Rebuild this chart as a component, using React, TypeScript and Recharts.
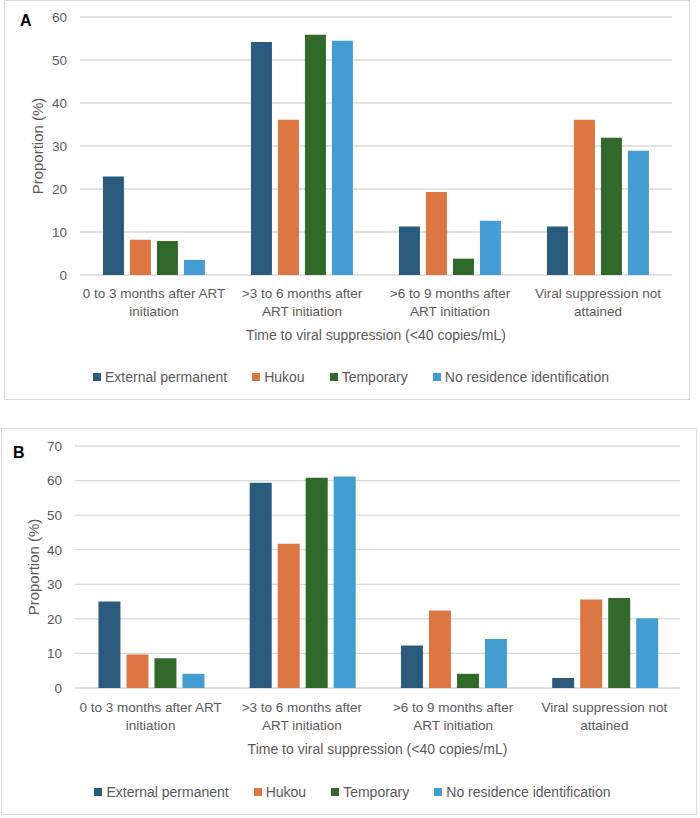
import { BarChart, Bar, XAxis, YAxis, CartesianGrid, Legend } from "recharts";

const FONT = '"Liberation Sans", Arial, sans-serif';
const TEXT = "#595959";
const GRID = "#d9d9d9";

const categories = [
  "0 to 3 months after ART initiation",
  ">3 to 6 months after ART initiation",
  ">6 to 9 months after ART initiation",
  "Viral suppression not attained",
];
const tickLines = [
  ["0 to 3 months after ART", "initiation"],
  [">3 to 6 months after", "ART initiation"],
  [">6 to 9 months after", "ART initiation"],
  ["Viral suppression not", "attained"],
];
const seriesNames = ["External permanent", "Hukou", "Temporary", "No residence identification"];
const seriesKeys = ["external", "hukou", "temporary", "noResidence"];
const colors = ["#2a5b7d", "#dc7642", "#31692b", "#449dd2"];

// Panel A
const externalA = [22.9, 54.2, 11.3, 11.3];
const hukouA = [8.2, 36.1, 19.3, 36.1];
const temporaryA = [7.9, 55.9, 3.8, 31.9];
const noResidenceA = [3.5, 54.5, 12.6, 28.9];
const yTicksA = [0, 10, 20, 30, 40, 50, 60];

// Panel B
const externalB = [25.0, 59.4, 12.3, 2.9];
const hukouB = [9.7, 41.7, 22.4, 25.6];
const temporaryB = [8.6, 60.8, 4.1, 26.0];
const noResidenceB = [4.1, 61.2, 14.2, 20.2];
const yTicksB = [0, 10, 20, 30, 40, 50, 60, 70];

const xTitle = "Time to viral suppression (<40 copies/mL)";
const yTitle = "Proportion (%)";

const buildRows = (ext: number[], huk: number[], tmp: number[], nores: number[]) =>
  categories.map((name, i) => ({
    name,
    external: ext[i],
    hukou: huk[i],
    temporary: tmp[i],
    noResidence: nores[i],
  }));

const dataA = buildRows(externalA, hukouA, temporaryA, noResidenceA);
const dataB = buildRows(externalB, hukouB, temporaryB, noResidenceB);

function CategoryTick(props: any) {
  const { x, y, payload, firstDy } = props;
  const lines = tickLines[categories.indexOf(payload.value)] || [payload.value];
  return (
    <text x={x} y={y} textAnchor="middle" fill={TEXT} fontSize={13.5} fontFamily={FONT}>
      {lines.map((l, i) => (
        <tspan key={i} x={x} dy={i === 0 ? firstDy : 18}>
          {l}
        </tspan>
      ))}
    </text>
  );
}

const renderLegend = () => (
  <div
    style={{
      display: "flex",
      justifyContent: "center",
      gap: 25,
      fontSize: 14,
      lineHeight: "20px",
      height: 20,
      color: TEXT,
      fontFamily: FONT,
    }}
  >
    {seriesNames.map((n, i) => (
      <span key={n} style={{ display: "flex", alignItems: "center" }}>
        <span style={{ width: 8, height: 8, background: colors[i], marginRight: 4 }} />
        {n}
      </span>
    ))}
  </div>
);

interface PanelProps {
  letter: string;
  data: any[];
  left: number;
  top: number;
  width: number;
  height: number;
  margin: { top: number; right: number; bottom: number; left: number };
  yTicks: number[];
  xAxisHeight: number;
  tickDy: number;
  titleOffset: number;
  yLabelInset: number;
  letterPos: { left: number; top: number };
}

function Panel(p: PanelProps) {
  return (
    <div
      style={{
        position: "absolute",
        left: p.left,
        top: p.top,
        width: p.width,
        height: p.height,
        boxShadow: `inset 0 0 0 1px ${GRID}`,
      }}
    >
      <div
        style={{
          position: "absolute",
          left: p.letterPos.left,
          top: p.letterPos.top,
          fontFamily: FONT,
          fontWeight: "bold",
          fontSize: 16,
          color: "#000",
          lineHeight: "16px",
        }}
      >
        {p.letter}
      </div>
      <BarChart
        width={p.width}
        height={p.height}
        data={p.data}
        margin={p.margin}
        barCategoryGap="15.5%"
        barGap={6}
      >
        <CartesianGrid vertical={false} stroke={GRID} strokeWidth={1.3} />
        <XAxis
          dataKey="name"
          axisLine={false}
          tickLine={false}
          tickSize={0}
          tickMargin={0}
          height={p.xAxisHeight}
          interval={0}
          tick={<CategoryTick firstDy={p.tickDy} />}
          label={{
            value: xTitle,
            position: "insideBottom",
            offset: p.titleOffset,
            fill: TEXT,
            fontSize: 14,
            fontFamily: FONT,
          }}
        />
        <YAxis
          width={50}
          domain={[0, p.yTicks[p.yTicks.length - 1]]}
          ticks={p.yTicks}
          axisLine={false}
          tickLine={false}
          tickSize={0}
          tickMargin={13}
          tick={{ fill: TEXT, fontSize: 13.5, fontFamily: FONT }}
          label={({ viewBox }: any) => {
            const cx = viewBox.x + viewBox.width - p.yLabelInset;
            const cy = viewBox.y + viewBox.height / 2;
            return (
              <text
                x={cx}
                y={cy}
                transform={`rotate(-90, ${cx}, ${cy})`}
                textAnchor="middle"
                dominantBaseline="central"
                fill={TEXT}
                fontSize={15}
                fontFamily={FONT}
              >
                {yTitle}
              </text>
            );
          }}
        />
        <Legend verticalAlign="bottom" content={renderLegend} />
        {seriesKeys.map((k, i) => (
          <Bar key={k} dataKey={k} name={seriesNames[i]} fill={colors[i]} isAnimationActive={false} />
        ))}
      </BarChart>
    </div>
  );
}

export default function App() {
  return (
    <div style={{ position: "absolute", left: 0, top: 0, width: 700, height: 818, background: "#fff" }}>
      <Panel
        letter="A"
        data={dataA}
        left={4}
        top={0}
        width={686}
        height={400}
        margin={{ top: 17, right: 18, bottom: 13, left: 26 }}
        yTicks={yTicksA}
        xAxisHeight={92}
        tickDy={23}
        titleOffset={27}
        yLabelInset={43}
        letterPos={{ left: 16, top: 13 }}
      />
      <Panel
        letter="B"
        data={dataB}
        left={1}
        top={428}
        width={696}
        height={387}
        margin={{ top: 18, right: 17, bottom: 13, left: 24 }}
        yTicks={yTicksB}
        xAxisHeight={94}
        tickDy={24}
        titleOffset={28}
        yLabelInset={42}
        letterPos={{ left: 12, top: 17 }}
      />
    </div>
  );
}
